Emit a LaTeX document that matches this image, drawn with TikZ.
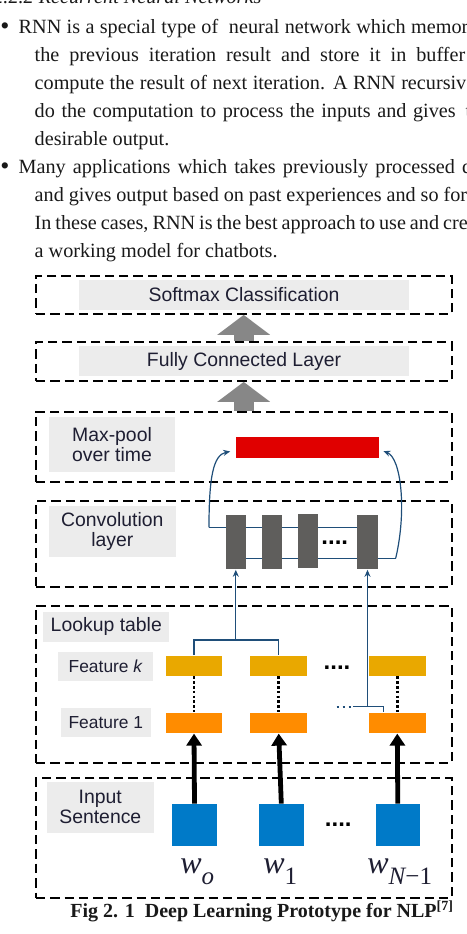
\documentclass[tikz,border=0pt]{standalone}
\usepackage{fontspec}
\setmainfont{Liberation Serif}
\newfontfamily\arial{Liberation Sans}
\usetikzlibrary{arrows.meta,backgrounds,calc}
\definecolor{bodyblack}{RGB}{25,25,25}
\definecolor{txtcol}{RGB}{30,30,50}
\definecolor{lblgray}{RGB}{236,236,236}
\definecolor{arrgray}{RGB}{135,135,135}
\definecolor{barcol}{RGB}{95,94,92}
\definecolor{poolred}{RGB}{224,0,0}
\definecolor{featk}{RGB}{233,168,0}
\definecolor{featone}{RGB}{255,140,0}
\definecolor{wordblue}{RGB}{0,122,200}
\definecolor{linkblue}{RGB}{31,78,121}
\begin{document}
\begin{tikzpicture}[x=0.5pt,y=-0.5pt,
  body/.style={anchor=base west, inner sep=0pt, text=bodyblack, font=\fontsize{10.1}{12}\selectfont},
  bul/.style={body, font=\fontsize{13}{13}\selectfont},
  layer/.style={draw=black, line width=0.9pt, dash pattern=on 4.7pt off 2.5pt, inner sep=0pt, minimum width=208pt},
  lbl/.style={fill=lblgray, text=txtcol, inner sep=0pt, align=center, font=\arial\fontsize{9.7}{10.2}\selectfont},
  bigup/.style={draw=arrgray, line width=10pt, -{Triangle[length=10pt 0, width=26pt 0]}},
  bar/.style={fill=barcol, inner sep=0pt, minimum width=10.2pt, minimum height=27.2pt},
  feat/.style={inner sep=0pt, minimum width=28.3pt, minimum height=10.2pt},
  wordbox/.style={fill=wordblue, inner sep=0pt, minimum width=22.2pt, minimum height=20.8pt},
  link/.style={draw=linkblue, line width=0.6pt},
  linktip/.style={link, -{Stealth[length=3.5pt, width=3pt]}},
  dotline/.style={draw=black, line width=1.4pt, dash pattern=on 1.3pt off 1.1pt},
  feed/.style={draw=black, line width=2.4pt, -{Triangle[length=6pt 0, width=7.5pt 0]}},
  dots/.style={inner sep=0pt, font=\arial\bfseries\fontsize{12}{12}\selectfont},
  wlbl/.style={anchor=base west, inner sep=0pt, text=txtcol}]
\useasboundingbox (0,0) rectangle (467,934);
\clip (0,0) rectangle (467,934);

% text above the figure
\node[body, font=\itshape\fontsize{10.1}{12}\selectfont] (head) at (-7,3.5) {2.2.2 Recurrent Neural Networks};
\node[bul] (bul1) at (0,34) {•};
\node[body] (p1) at (18.3,33) {\makebox[224.8pt][s]{RNN is a special type of\ \ neural network which memor}};
\node[body] (p2) at (34.3,61.7) {\makebox[215.3pt][s]{the previous iteration result and store it in buffer}};
\node[body] (p3) at (34.3,89.3) {\makebox[215.8pt][s]{compute the result of next iteration. A RNN recursiv}};
\node[body] (p4) at (34.3,117.3) {\makebox[210.5pt][s]{do the computation to process the inputs and gives}\hspace{5pt}the};
\node[body] (p5) at (34.3,145.7) {desirable output.};
\node[bul] (bul2) at (0,174.3) {•};
\node[body] (p6) at (18.3,173.3) {\makebox[226.8pt][s]{Many applications which takes previously processed d}};
\node[body] (p7) at (34.3,201) {\makebox[216.2pt][s]{and gives output based on past experiences and so for}};
\node[body] (p8) at (34.3,229.7) {\makebox[216.5pt][s]{In these cases, RNN is the best approach to use and cre}};
\node[body] (p9) at (34.3,257) {a working model for chatbots.};

% dashed layers
\node[layer, minimum height=19.15pt] (Lsoft) at (243.7,294.85) {};
\node[layer, minimum height=19.5pt] (Lfc) at (243.7,361.5) {};
\node[layer, minimum height=35pt] (Lpool) at (243.7,446.7) {};
\node[layer, minimum height=42.85pt] (Lconv) at (243.7,543.85) {};
\node[layer, minimum height=78.5pt] (Llook) at (243.7,684.2) {};
\node[layer, minimum height=59.7pt] (Linput) at (243.7,838) {};

% labels
\node[lbl, minimum width=165pt, minimum height=15pt] (soft) at (244,295) {Softmax Classification};
\node[lbl, minimum width=165pt, minimum height=15pt] (fc) at (244,361) {Fully Connected Layer};
\node[lbl, minimum width=63pt, minimum height=27.4pt] (tpool) at (112,444.3) {Max-pool\\over time};
\node[lbl, minimum width=63.3pt, minimum height=25.5pt] (tconv) at (112.3,531.5) {Convolution\\layer};
\node[lbl, minimum width=63pt, minimum height=15pt] (tlook) at (106.3,626.7) {Lookup table};
\node[lbl, minimum width=47.5pt, minimum height=14.5pt, font=\arial\fontsize{8.7}{10}\selectfont] (tfk) at (105.8,666.2) {Feature \textit{k}};
\node[lbl, minimum width=44.8pt, minimum height=14.3pt, font=\arial\fontsize{8.7}{10}\selectfont] (tf1) at (105.8,722.3) {Feature 1};
\node[lbl, minimum width=53.7pt, minimum height=25.5pt] (tin) at (100.3,807.2) {Input\\Sentence};

% big arrows
\draw[bigup] (Lfc.north) -- (Lsoft.south);
\draw[bigup] (Lpool.north) -- (Lfc.south);

% max-pool and convolution
\node[fill=poolred, inner sep=0pt, minimum width=71.7pt, minimum height=10.5pt] (mp) at (307.3,447.2) {};
\node[bar] (c1) at (235.8,542.2) {};
\node[bar] (c2) at (272,542.2) {};
\node[bar] (c3) at (307.8,540.7) {};
\node[bar] (c4) at (367.5,542.2) {};
\node[dots] (cdots) at (334.8,542.7) {....};
\coordinate (ls) at (209,527.3);
\coordinate (rs) at (395.7,558.3);
\begin{scope}[on background layer]
  \draw[link] (ls) -- (ls -| c4.center);
  \draw[link] (rs -| c1.center) -- (rs);
\end{scope}
\draw[linktip] (ls) .. controls (209,478) and (213,455) .. ($(mp.south west)+(-5,-6.7)$);
\draw[linktip] (rs) .. controls (407,510) and (401,458) .. ($(mp.south east)+(4,-7)$);

% lookup table
\foreach \i/\x in {1/194,2/278.7,3/397.3} {
  \node[feat, fill=featk] (fk\i) at (\x,665.7) {};
  \node[feat, fill=featone] (fo\i) at (\x,723) {};
  \draw[dotline] (fk\i.south) -- (fo\i.north);
}
\node[dots] (fdots) at (337,667.3) {....};
\coordinate (t1) at (c1.south |- 0,640);
\coordinate (t2) at (c4.south |- 0,706.7);
\coordinate (t3) at (353,706.7);
\coordinate (t4) at (336.7,706.7);
\coordinate (d3) at ($(fo3.north)+(-14,0)$);
\draw[link] (fk1.north) |- (t1) -| (fk2.north);
\draw[linktip] (t1) -- (c1.south);
\draw[linktip] (t2) -- (c4.south);
\draw[link] (t3) -| (d3);
\draw[draw=linkblue, line width=1pt, dash pattern=on 1pt off 2pt] (t4) -- (t3);

% input sentence
\node[wordbox] (w1) at (194.5,824.8) {};
\node[wordbox] (w2) at (281.3,824.8) {};
\node[wordbox] (w3) at (397.8,824.8) {};
\node[dots] (wdots) at (338.3,824.3) {....};
\foreach \i in {1,2,3} \draw[feed] (w\i.north) -- (fo\i.south);
\node[wlbl] (lw1) at (180,873.3) {{\fontsize{16}{16}\selectfont\itshape w}\raisebox{-5.5pt}{\fontsize{12.5}{12.5}\selectfont\itshape o}};
\node[wlbl] (lw2) at (263,873.3) {{\fontsize{16}{16}\selectfont\itshape w}\raisebox{-5.5pt}{\fontsize{12.5}{12.5}\selectfont 1}};
\node[wlbl] (lw3) at (367,873.3) {{\fontsize{16}{16}\selectfont\itshape w}\raisebox{-5.5pt}{\fontsize{12.5}{12.5}\selectfont\itshape N\upshape −1}};

% caption
\node[body, font=\bfseries\fontsize{10}{12}\selectfont] (cap) at (70,917.7) {Fig 2. 1\ \ Deep Learning Prototype for NLP\textsuperscript{[7]}};
\end{tikzpicture}
\end{document}
